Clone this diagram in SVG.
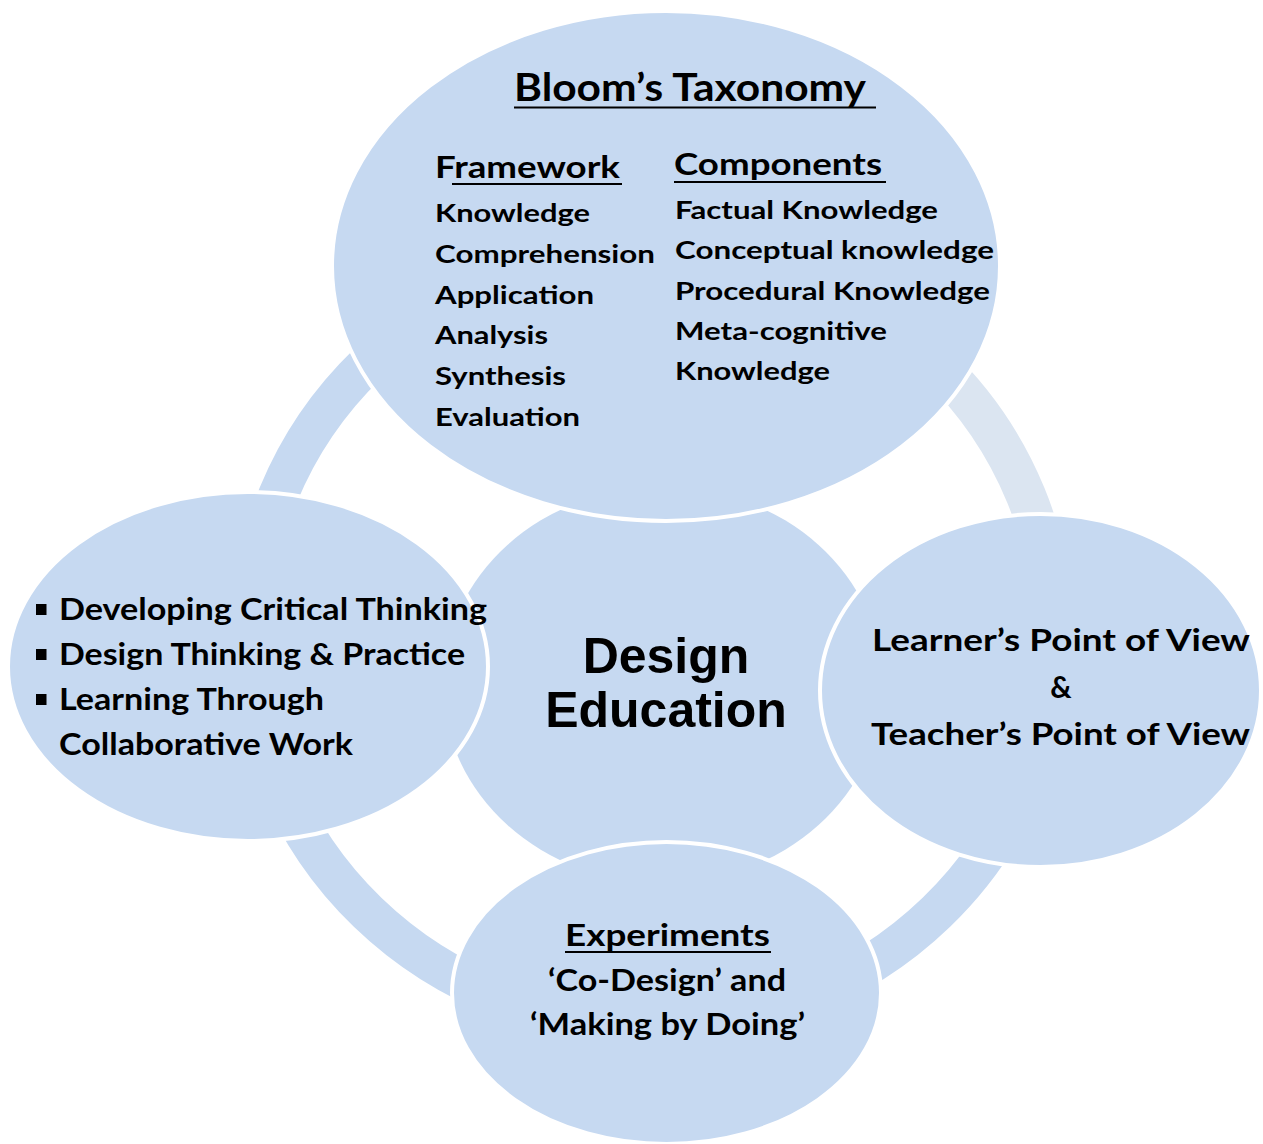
<svg xmlns="http://www.w3.org/2000/svg" width="1263" height="1144" viewBox="0 0 1263 1144">
  <defs>
    <style>
      .bubble { fill: #C6D9F1; stroke: #FFFFFF; stroke-width: 4; }
      .core { fill: #C6D9F1; stroke: none; }
      .ring { fill: none; stroke: #C6D9F1; stroke-width: 40; }
      .ring-light { fill: none; stroke: #DBE5F1; stroke-width: 40; }
      .t { font-family: Lato, "Open Sans", "Liberation Sans", sans-serif; font-weight: 700; fill: #000000; }
      .title { font-size: 39px; }
      .head { font-size: 29.5px; }
      .item { font-size: 25.5px; }
      .body { font-size: 29.5px; }
      .core-text { font-family: "Liberation Sans", Arial, sans-serif; font-weight: 700; font-size: 50px; fill: #000000; }
      .ul { stroke: #000000; stroke-width: 2.2; }
      .bullet { fill: #000000; }
    </style>
  </defs>

  <!-- ring of arcs linking the outer bubbles -->
  <g id="connectors">
    <path class="ring-light" d="M652,250 A402,388 0 0 1 1054,638"/>
    <path class="ring" d="M1054,638 A402,388 0 0 1 652,1026"/>
    <path class="ring" d="M652,1026 A402,388 0 0 1 250,638"/>
    <path class="ring" d="M250,638 A402,388 0 0 1 652,250"/>
  </g>

  <!-- central topic -->
  <g id="node-design-education">
    <ellipse class="core" cx="663" cy="685" rx="220" ry="198"/>
    <text class="core-text" x="666" y="673" text-anchor="middle">Design</text>
    <text class="core-text" x="666" y="727" text-anchor="middle">Education</text>
  </g>

  <!-- Bloom's taxonomy -->
  <g id="node-blooms-taxonomy">
    <ellipse class="bubble" cx="666" cy="266" rx="334" ry="255"/>
    <text class="t title" x="514" y="101" textLength="352" lengthAdjust="spacingAndGlyphs">Bloom’s Taxonomy</text>
    <line class="ul" x1="514" y1="107.5" x2="876" y2="107.5"/>

    <text class="t head" x="435" y="178" textLength="185" lengthAdjust="spacingAndGlyphs">Framework</text>
    <line class="ul" x1="452" y1="184" x2="622" y2="184"/>
    <text class="t item" x="435" y="222" textLength="155" lengthAdjust="spacingAndGlyphs">Knowledge</text>
    <text class="t item" x="435" y="263" textLength="220" lengthAdjust="spacingAndGlyphs">Comprehension</text>
    <text class="t item" x="435" y="303.5" textLength="159" lengthAdjust="spacingAndGlyphs">Application</text>
    <text class="t item" x="435" y="344" textLength="113" lengthAdjust="spacingAndGlyphs">Analysis</text>
    <text class="t item" x="435" y="385" textLength="131" lengthAdjust="spacingAndGlyphs">Synthesis</text>
    <text class="t item" x="435" y="425.5" textLength="145" lengthAdjust="spacingAndGlyphs">Evaluation</text>

    <text class="t head" x="674" y="175" textLength="208" lengthAdjust="spacingAndGlyphs">Components</text>
    <line class="ul" x1="674" y1="182" x2="886" y2="182"/>
    <text class="t item" x="675" y="218.5" textLength="263" lengthAdjust="spacingAndGlyphs">Factual Knowledge</text>
    <text class="t item" x="675" y="259" textLength="319" lengthAdjust="spacingAndGlyphs">Conceptual knowledge</text>
    <text class="t item" x="675" y="299.5" textLength="315" lengthAdjust="spacingAndGlyphs">Procedural Knowledge</text>
    <text class="t item" x="675" y="340" textLength="212" lengthAdjust="spacingAndGlyphs">Meta-cognitive</text>
    <text class="t item" x="675" y="380" textLength="155" lengthAdjust="spacingAndGlyphs">Knowledge</text>
  </g>

  <!-- thinking and practice -->
  <g id="node-thinking-practice">
    <ellipse class="bubble" cx="248" cy="666.5" rx="240" ry="174.5"/>
    <rect class="bullet" x="36" y="604" width="10.5" height="11"/>
    <rect class="bullet" x="36" y="649" width="10.5" height="11"/>
    <rect class="bullet" x="36" y="694" width="10.5" height="11"/>
    <text class="t body" x="59" y="620" textLength="428" lengthAdjust="spacingAndGlyphs">Developing Critical Thinking</text>
    <text class="t body" x="59" y="665" textLength="406" lengthAdjust="spacingAndGlyphs">Design Thinking &amp; Practice</text>
    <text class="t body" x="59" y="710" textLength="265" lengthAdjust="spacingAndGlyphs">Learning Through</text>
    <text class="t body" x="59" y="755" textLength="294" lengthAdjust="spacingAndGlyphs">Collaborative Work</text>
  </g>

  <!-- points of view -->
  <g id="node-points-of-view">
    <ellipse class="bubble" cx="1040.5" cy="690.5" rx="220.5" ry="176.5"/>
    <text class="t body" x="872" y="651" textLength="378" lengthAdjust="spacingAndGlyphs">Learner’s Point of View</text>
    <text class="t body" x="1061" y="698" text-anchor="middle">&amp;</text>
    <text class="t body" x="871" y="745" textLength="379" lengthAdjust="spacingAndGlyphs">Teacher’s Point of View</text>
  </g>

  <!-- experiments -->
  <g id="node-experiments">
    <ellipse class="bubble" cx="666.5" cy="993" rx="214.5" ry="151"/>
    <text class="t body" x="565" y="946" textLength="205" lengthAdjust="spacingAndGlyphs">Experiments</text>
    <line class="ul" x1="565" y1="952" x2="771" y2="952"/>
    <text class="t body" x="548" y="991" textLength="238" lengthAdjust="spacingAndGlyphs">‘Co-Design’ and</text>
    <text class="t body" x="530" y="1035" textLength="275" lengthAdjust="spacingAndGlyphs">‘Making by Doing’</text>
  </g>
</svg>
